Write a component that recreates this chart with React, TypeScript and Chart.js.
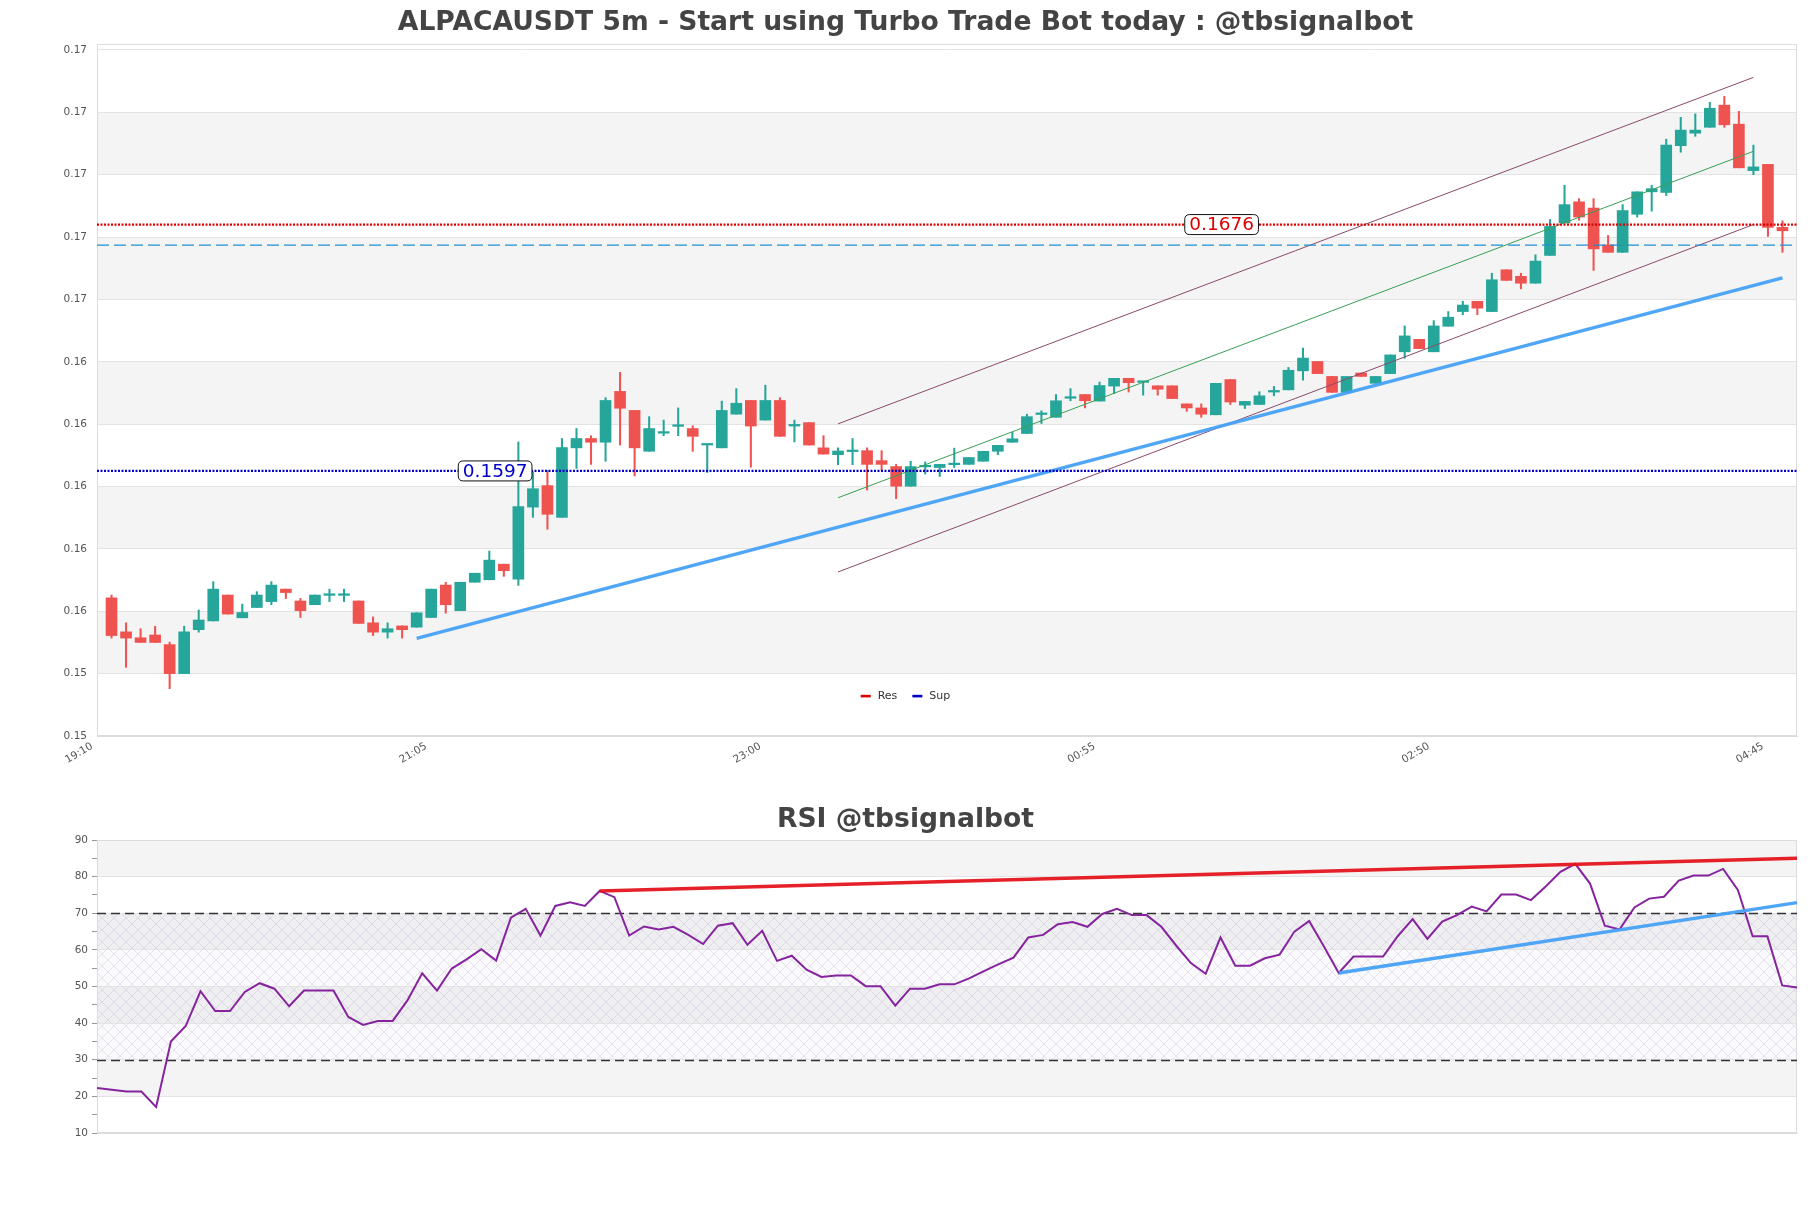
import React, { useEffect, useRef } from 'react';
import { Chart, registerables } from 'chart.js';

Chart.register(...registerables);

// ---------- text ----------
const TITLE = 'ALPACAUSDT 5m - Start using Turbo Trade Bot today : @tbsignalbot';
const RSI_TITLE = 'RSI @tbsignalbot';

// ---------- categories ----------
const AXIS_START = '19:10'; // left edge of the time axis
const STEP_MIN = 5;
const X_TICK_EVERY = 23;

// ---------- candles (19:15 ... 04:50) ----------
const OPEN = [
  0.15563, 0.15454, 0.15435, 0.15444, 0.15413, 0.1532, 0.15461, 0.15489, 0.15572, 0.15499,
  0.15532, 0.15551, 0.15591, 0.15553, 0.15541, 0.15571, 0.15571, 0.15553, 0.15483, 0.15453,
  0.15473, 0.15469, 0.155, 0.15604, 0.15522, 0.15613, 0.15621, 0.15671, 0.15623, 0.15854,
  0.15923, 0.15821, 0.16044, 0.16074, 0.16062, 0.16225, 0.16164, 0.16033, 0.16091, 0.16113,
  0.16106, 0.16053, 0.16044, 0.16152, 0.16196, 0.16133, 0.16196, 0.16114, 0.16125, 0.16044,
  0.16022, 0.16032, 0.16035, 0.16003, 0.15984, 0.15921, 0.15983, 0.15981, 0.1599, 0.15991,
  0.16001, 0.16033, 0.16062, 0.1609, 0.16151, 0.16142, 0.16203, 0.16215, 0.16194, 0.16242,
  0.16267, 0.16254, 0.16243, 0.16243, 0.16185, 0.16172, 0.1615, 0.16263, 0.16181, 0.16183,
  0.16223, 0.1623, 0.16291, 0.16321, 0.16273, 0.16222, 0.16284, 0.16251, 0.16282, 0.16352,
  0.16392, 0.16352, 0.16434, 0.16481, 0.16514, 0.16481, 0.16615, 0.16594, 0.16572, 0.16661,
  0.16765, 0.16833, 0.16813, 0.16695, 0.16671, 0.16793, 0.16865, 0.16863, 0.17013, 0.17053,
  0.17072, 0.17143, 0.17082, 0.16933, 0.16953, 0.16751,
];
const HIGH = [
  0.15572, 0.15483, 0.15464, 0.15472, 0.15421, 0.15472, 0.15524, 0.15615, 0.15572, 0.15543,
  0.15583, 0.15615, 0.15591, 0.15561, 0.15572, 0.15591, 0.15591, 0.15553, 0.15502, 0.15483,
  0.15473, 0.15515, 0.15591, 0.15613, 0.15613, 0.15642, 0.15713, 0.15671, 0.16063, 0.15967,
  0.15972, 0.16074, 0.16106, 0.16083, 0.16205, 0.16286, 0.16164, 0.16144, 0.16133, 0.16172,
  0.16115, 0.16056, 0.16194, 0.16234, 0.16196, 0.16245, 0.16205, 0.16133, 0.16125, 0.16083,
  0.16044, 0.16074, 0.16044, 0.16035, 0.15991, 0.16001, 0.15999, 0.15991, 0.16043, 0.16013,
  0.16033, 0.16052, 0.16094, 0.16152, 0.16163, 0.16215, 0.16234, 0.16215, 0.16255, 0.16267,
  0.16267, 0.16256, 0.16243, 0.16243, 0.16185, 0.16185, 0.16251, 0.16263, 0.16193, 0.16224,
  0.16241, 0.16302, 0.16364, 0.16321, 0.16273, 0.16273, 0.16284, 0.16273, 0.16342, 0.16435,
  0.16392, 0.16452, 0.16481, 0.16514, 0.16514, 0.16604, 0.16615, 0.16604, 0.16663, 0.16776,
  0.16886, 0.16843, 0.16843, 0.16725, 0.16824, 0.16865, 0.16886, 0.17034, 0.17104, 0.17115,
  0.17152, 0.17171, 0.17123, 0.17015, 0.16953, 0.16772,
];
const LOW = [
  0.15434, 0.1534, 0.1542, 0.1542, 0.15272, 0.1532, 0.15453, 0.15489, 0.15511, 0.15499,
  0.15532, 0.15541, 0.15561, 0.155, 0.15541, 0.15551, 0.15551, 0.15481, 0.15442, 0.15434,
  0.15434, 0.15469, 0.155, 0.15514, 0.15522, 0.15613, 0.15621, 0.15632, 0.15603, 0.15821,
  0.15783, 0.15821, 0.15978, 0.15991, 0.16001, 0.16053, 0.15954, 0.16033, 0.16083, 0.16083,
  0.16033, 0.15965, 0.16044, 0.16152, 0.15982, 0.16133, 0.16081, 0.16063, 0.16053, 0.16024,
  0.1599, 0.1599, 0.15909, 0.15972, 0.15881, 0.15921, 0.1596, 0.15952, 0.15981, 0.15991,
  0.16001, 0.16022, 0.16062, 0.1609, 0.16122, 0.16142, 0.16195, 0.16172, 0.16194, 0.16218,
  0.16223, 0.16213, 0.16213, 0.16202, 0.16161, 0.16142, 0.1615, 0.16183, 0.1617, 0.16183,
  0.16211, 0.1623, 0.16261, 0.16282, 0.16222, 0.16222, 0.16273, 0.16251, 0.16282, 0.16331,
  0.16362, 0.16352, 0.16434, 0.16471, 0.16471, 0.16481, 0.16581, 0.16554, 0.16572, 0.16661,
  0.16765, 0.16774, 0.16613, 0.16671, 0.16671, 0.16784, 0.16803, 0.16853, 0.16992, 0.17043,
  0.17072, 0.17072, 0.16942, 0.1692, 0.16722, 0.16671,
];
const CLOSE = [
  0.15442, 0.15434, 0.1542, 0.1542, 0.1532, 0.15454, 0.15492, 0.15591, 0.15511, 0.15516,
  0.15572, 0.15604, 0.1558, 0.15522, 0.15572, 0.15573, 0.15573, 0.15481, 0.15453, 0.15464,
  0.15461, 0.15515, 0.15591, 0.15541, 0.15613, 0.15642, 0.15684, 0.1565, 0.15856, 0.15913,
  0.15831, 0.16045, 0.16074, 0.16062, 0.16196, 0.16171, 0.16044, 0.16106, 0.16095, 0.16116,
  0.16081, 0.16056, 0.16164, 0.16187, 0.16114, 0.16196, 0.16081, 0.16116, 0.16053, 0.16024,
  0.16034, 0.16035, 0.15991, 0.15991, 0.15921, 0.15984, 0.15986, 0.15991, 0.15992, 0.16013,
  0.16033, 0.16052, 0.16073, 0.16144, 0.16153, 0.16195, 0.16205, 0.16195, 0.16244, 0.16267,
  0.16253, 0.16256, 0.16232, 0.16202, 0.16172, 0.16152, 0.16251, 0.16191, 0.16193, 0.16211,
  0.16225, 0.16293, 0.16332, 0.16282, 0.16222, 0.16273, 0.16273, 0.16273, 0.16342, 0.16403,
  0.16362, 0.16435, 0.16463, 0.16502, 0.16492, 0.16583, 0.16581, 0.16572, 0.16643, 0.16754,
  0.16824, 0.16784, 0.16682, 0.16671, 0.16805, 0.16865, 0.16875, 0.17015, 0.17063, 0.17063,
  0.17133, 0.1708, 0.16942, 0.16945, 0.16751, 0.1674,
];

// ---------- RSI ----------
const RSI = [
  22.3, 21.8, 21.3, 21.3, 17.1, 35.0, 39.2, 48.7, 43.3, 43.3,
  48.5, 50.9, 49.4, 44.6, 48.9, 48.9, 48.9, 41.7, 39.5, 40.6,
  40.6, 46.2, 53.6, 48.9, 54.9, 57.4, 60.2, 57.1, 68.8, 71.2,
  63.9, 72.0, 73.0, 72.0, 76.1, 74.4, 63.9, 66.4, 65.6, 66.3,
  64.1, 61.6, 66.6, 67.3, 61.4, 65.2, 57.0, 58.4, 54.6, 52.6,
  53.0, 53.0, 50.1, 50.1, 44.8, 49.4, 49.4, 50.6, 50.6, 52.2,
  54.2, 56.1, 57.9, 63.4, 64.1, 67.0, 67.6, 66.3, 69.8, 71.2,
  69.5, 69.5, 66.3, 61.2, 56.4, 53.5, 63.4, 55.7, 55.7, 57.7,
  58.7, 65.0, 67.9, 60.9, 53.7, 58.2, 58.2, 58.2, 63.8, 68.4,
  63.0, 67.7, 69.5, 71.8, 70.5, 75.1, 75.1, 73.6, 77.3, 81.3,
  83.5, 78.1, 66.6, 65.6, 71.6, 74.0, 74.5, 78.9, 80.3, 80.3,
  82.1, 76.4, 63.7, 63.7, 50.3, 49.7,
];

// ---------- axes ----------
const Y_TICKS = [0.1512, 0.1532, 0.1552, 0.1572, 0.1592, 0.1612, 0.1632, 0.1652, 0.1672, 0.1692, 0.1712, 0.1732];
const Y_MIN = 0.1512;
const Y_MAX = 0.17339;
const RSI_MIN = 10;
const RSI_MAX = 90;
const RSI_MAJOR = [10, 20, 30, 40, 50, 60, 70, 80, 90];
const RSI_LEVELS = [70, 30];

// ---------- levels & trend lines (candle index, price) ----------
const RES_LEVEL = 0.1676;
const SUP_LEVEL = 0.1597;
const CYAN_LEVEL = 0.16694;
const RES_LABEL_AT = 76.4;
const SUP_LABEL_AT = 26.4;
const SUP_TREND = [{ i: 21, y: 0.15433 }, { i: 115, y: 0.16589 }];
const CH_UPPER = [{ i: 50, y: 0.16121 }, { i: 113, y: 0.17232 }];
const CH_MID = [{ i: 50, y: 0.15884 }, { i: 113, y: 0.16995 }];
const CH_LOWER = [{ i: 50, y: 0.15646 }, { i: 113, y: 0.1676 }];
const RSI_RES = [{ i: 34, y: 76.1 }, { i: 115, y: 85.0 }];
const RSI_SUP = [{ i: 84, y: 53.7 }, { i: 115, y: 72.9 }];

// ---------- style ----------
const FONT = "'DejaVu Sans', 'Noto Sans', sans-serif";
const GREEN = '#26a69a';
const RED = '#ef5350';
const BAND = '#f4f4f4';
const GRID = '#e3e3e3';
const BORDER = '#dcdcdc';
const TICK_TXT = '#555555';
const RES_COLOR = '#dd0000';
const SUP_COLOR = '#0000c8';
const TREND_BLUE = 'rgba(70,160,245,0.95)';

function makeTimes(start: string, count: number): string[] {
  const [h, m] = start.split(':').map(Number);
  const t0 = h * 60 + m;
  const out: string[] = [];
  for (let k = 0; k < count; k++) {
    const v = (t0 + k * STEP_MIN) % 1440;
    out.push(String(Math.floor(v / 60)).padStart(2, '0') + ':' + String(v % 60).padStart(2, '0'));
  }
  return out;
}
const X_LABELS = makeTimes(AXIS_START, OPEN.length + 2);
const CANDLE_LABELS = X_LABELS.slice(1, OPEN.length + 1);

function seg(pts: { i: number; y: number }[]) {
  return pts.map((p) => ({ x: CANDLE_LABELS[p.i], y: p.y }));
}

function bandsPlugin(id: string, majors: number[], hatch?: [number, number]) {
  return {
    id,
    beforeDraw(chart: any) {
      const { ctx, chartArea: a, scales } = chart;
      const y = scales.y;
      ctx.save();
      ctx.fillStyle = '#ffffff';
      ctx.fillRect(a.left, a.top, a.right - a.left, a.bottom - a.top);
      ctx.fillStyle = BAND;
      for (let k = 1; k < majors.length - 1; k += 2) {
        const y0 = y.getPixelForValue(majors[k]);
        const y1 = y.getPixelForValue(majors[k + 1]);
        ctx.fillRect(a.left, y1, a.right - a.left, y0 - y1);
      }
      if (hatch) {
        const yTop = y.getPixelForValue(hatch[1]);
        const yBot = y.getPixelForValue(hatch[0]);
        ctx.fillStyle = 'rgba(185,165,215,0.07)';
        ctx.fillRect(a.left, yTop, a.right - a.left, yBot - yTop);
        const c = document.createElement('canvas');
        c.width = 12;
        c.height = 12;
        const g = c.getContext('2d')!;
        g.strokeStyle = 'rgba(165,145,195,0.33)';
        g.lineWidth = 0.7;
        g.beginPath();
        g.moveTo(0, 0);
        g.lineTo(12, 12);
        g.moveTo(12, 0);
        g.lineTo(0, 12);
        g.stroke();
        const pat = ctx.createPattern(c, 'repeat');
        if (pat) {
          ctx.fillStyle = pat;
          ctx.fillRect(a.left, yTop, a.right - a.left, yBot - yTop);
        }
      }
      ctx.restore();
    },
    beforeDatasetsDraw(chart: any) {
      const { ctx, chartArea: a } = chart;
      ctx.save();
      ctx.strokeStyle = BORDER;
      ctx.lineWidth = 1;
      ctx.strokeRect(a.left + 0.5, a.top + 0.5, a.right - a.left - 1, a.bottom - a.top - 1);
      ctx.restore();
    },
  };
}

const levelLabelsPlugin = {
  id: 'levelLabels',
  afterDatasetsDraw(chart: any) {
    const { ctx, scales } = chart;
    const items = [
      { at: RES_LABEL_AT, value: RES_LEVEL, color: RES_COLOR },
      { at: SUP_LABEL_AT, value: SUP_LEVEL, color: SUP_COLOR },
    ];
    ctx.save();
    ctx.font = `18.5px ${FONT}`;
    items.forEach((it) => {
      const text = it.value.toFixed(4);
      const px = scales.x.getPixelForValue(it.at + 1);
      const py = scales.y.getPixelForValue(it.value);
      const w = ctx.measureText(text).width + 9;
      const h = 20;
      const x0 = px - w / 2;
      const y0 = py - h / 2;
      const r = 5;
      ctx.beginPath();
      ctx.moveTo(x0 + r, y0);
      ctx.lineTo(x0 + w - r, y0);
      ctx.quadraticCurveTo(x0 + w, y0, x0 + w, y0 + r);
      ctx.lineTo(x0 + w, y0 + h - r);
      ctx.quadraticCurveTo(x0 + w, y0 + h, x0 + w - r, y0 + h);
      ctx.lineTo(x0 + r, y0 + h);
      ctx.quadraticCurveTo(x0, y0 + h, x0, y0 + h - r);
      ctx.lineTo(x0, y0 + r);
      ctx.quadraticCurveTo(x0, y0, x0 + r, y0);
      ctx.closePath();
      ctx.fillStyle = '#ffffff';
      ctx.fill();
      ctx.strokeStyle = '#111111';
      ctx.lineWidth = 1;
      ctx.stroke();
      ctx.fillStyle = it.color;
      ctx.textAlign = 'center';
      ctx.textBaseline = 'middle';
      ctx.fillText(text, px, py + 1);
    });
    ctx.restore();
  },
};

const innerLegendPlugin = {
  id: 'innerLegend',
  afterDraw(chart: any) {
    const { ctx, chartArea: a } = chart;
    const items = chart.data.datasets.filter((d: any) => d.inLegend);
    ctx.save();
    ctx.font = `11px ${FONT}`;
    const mw = 10;
    const gap = 7;
    const sp = 15;
    const widths = items.map((d: any) => mw + gap + ctx.measureText(d.label).width);
    const total = widths.reduce((s: number, w: number) => s + w, 0) + sp * (items.length - 1);
    let x = chart.width / 2 - total / 2;
    const y = a.bottom - 40;
    items.forEach((d: any, k: number) => {
      ctx.fillStyle = d.borderColor;
      ctx.fillRect(x, y - 1.2, mw, 2.6);
      ctx.fillStyle = '#333333';
      ctx.textAlign = 'left';
      ctx.textBaseline = 'middle';
      ctx.fillText(d.label, x + mw + gap, y);
      x += widths[k] + sp;
    });
    ctx.restore();
  },
};

const rsiLevelsPlugin = {
  id: 'rsiLevels',
  beforeDatasetsDraw(chart: any) {
    const { ctx, chartArea: a, scales } = chart;
    ctx.save();
    ctx.strokeStyle = '#333333';
    ctx.lineWidth = 1.3;
    ctx.setLineDash([9, 5]);
    RSI_LEVELS.forEach((v) => {
      const py = Math.round(scales.y.getPixelForValue(v)) + 0.5;
      ctx.beginPath();
      ctx.moveTo(a.left, py);
      ctx.lineTo(a.right, py);
      ctx.stroke();
    });
    ctx.restore();
  },
};

function lineDs(label: string, data: any[], color: string, width: number, dash?: number[], extra: any = {}) {
  return {
    type: 'line' as const,
    label,
    data,
    borderColor: color,
    backgroundColor: color,
    borderWidth: width,
    borderDash: dash || [],
    pointRadius: 0,
    fill: false,
    tension: 0,
    order: 0,
    ...extra,
  };
}

// invisible right-hand spacer so that the chart area ends 14px before the canvas edge
const rightSpacer = {
  type: 'linear',
  position: 'right',
  display: true,
  grid: { display: false, drawTicks: false },
  border: { display: false },
  ticks: { display: false },
  afterFit: (s: any) => {
    s.width = 14;
  },
};

function mainConfig(): any {
  const colors = OPEN.map((o, i) => (CLOSE[i] >= o ? GREEN : RED));
  const first = X_LABELS[0];
  const last = X_LABELS[X_LABELS.length - 1];
  return {
    type: 'bar',
    data: {
      labels: X_LABELS,
      datasets: [
        lineDs('Res', [{ x: first, y: RES_LEVEL }, { x: last, y: RES_LEVEL }], RES_COLOR, 2.2, [2, 1.5], { inLegend: true }),
        lineDs('Sup', [{ x: first, y: SUP_LEVEL }, { x: last, y: SUP_LEVEL }], SUP_COLOR, 2.2, [2, 1.5], { inLegend: true }),
        lineDs('Last', [{ x: first, y: CYAN_LEVEL }, { x: last, y: CYAN_LEVEL }], '#1f8fcf', 1.2, [12, 5]),
        lineDs('Trend', seg(SUP_TREND), TREND_BLUE, 3.5),
        lineDs('Upper', seg(CH_UPPER), '#8a4a6c', 1),
        lineDs('Mid', seg(CH_MID), '#3a9f55', 1),
        lineDs('Lower', seg(CH_LOWER), '#8a4a6c', 1),
        {
          type: 'bar',
          label: 'wick',
          data: LOW.map((l, i) => ({ x: CANDLE_LABELS[i], y: [l, HIGH[i]] })),
          backgroundColor: colors,
          borderWidth: 0,
          barThickness: 1.4,
          grouped: false,
          order: 2,
        },
        {
          type: 'bar',
          label: 'body',
          data: OPEN.map((o, i) => ({ x: CANDLE_LABELS[i], y: [o, CLOSE[i]] })),
          backgroundColor: colors,
          borderWidth: 0,
          barThickness: 11,
          minBarLength: 1.6,
          grouped: false,
          order: 1,
        },
      ],
    },
    options: {
      responsive: false,
      animation: false,
      devicePixelRatio: 1,
      events: [],
      layout: { padding: 0 },
      plugins: {
        legend: { display: false },
        tooltip: { enabled: false },
        title: {
          display: true,
          text: TITLE,
          color: '#444444',
          font: { family: FONT, size: 26.6, weight: 'bold' },
          padding: { top: 7, bottom: 5.1 },
        },
      },
      scales: {
        x: {
          type: 'category',
          offset: false,
          grid: { display: false, drawTicks: false },
          border: { display: true, color: BORDER },
          ticks: {
            autoSkip: false,
            minRotation: 31,
            maxRotation: 31,
            padding: 4,
            labelOffset: -5,
            color: TICK_TXT,
            font: { family: FONT, size: 10.5 },
          },
          afterBuildTicks: (s: any) => {
            s.ticks = s.ticks.filter((t: any) => t.value % X_TICK_EVERY === 0);
          },
          afterFit: (s: any) => {
            s.height = 44;
          },
        },
        y: {
          type: 'linear',
          min: Y_MIN,
          max: Y_MAX,
          grid: { color: GRID, drawTicks: false },
          border: { display: true, color: BORDER },
          ticks: {
            padding: 10,
            color: TICK_TXT,
            font: { family: FONT, size: 10.5 },
            callback: (v: any) => Number(v).toFixed(2),
          },
          afterBuildTicks: (s: any) => {
            s.ticks = Y_TICKS.map((v) => ({ value: v }));
          },
          afterFit: (s: any) => {
            s.width = 97;
          },
        },
        pad: rightSpacer,
      },
    },
    plugins: [bandsPlugin('mainBands', Y_TICKS), levelLabelsPlugin, innerLegendPlugin],
  };
}

function rsiConfig(): any {
  return {
    type: 'line',
    data: {
      labels: CANDLE_LABELS,
      datasets: [
        lineDs('RSI Res', seg(RSI_RES), 'rgba(228,20,30,0.95)', 3.5),
        lineDs('RSI Sup', seg(RSI_SUP), TREND_BLUE, 3.5),
        lineDs('RSI', RSI, '#86249e', 2, [], { order: 1 }),
      ],
    },
    options: {
      responsive: false,
      animation: false,
      devicePixelRatio: 1,
      events: [],
      layout: { padding: 0 },
      plugins: {
        legend: { display: false },
        tooltip: { enabled: false },
        title: {
          display: true,
          text: RSI_TITLE,
          color: '#444444',
          font: { family: FONT, size: 26.6, weight: 'bold' },
          padding: { top: 24, bottom: 4.1 },
        },
      },
      scales: {
        x: {
          type: 'category',
          offset: false,
          grid: { display: false, drawTicks: false },
          border: { display: true, color: BORDER },
          ticks: { display: false },
          afterFit: (s: any) => {
            s.height = 75;
          },
        },
        y: {
          type: 'linear',
          min: RSI_MIN,
          max: RSI_MAX,
          grid: {
            color: (c: any) => (c.tick && c.tick.value % 10 === 0 ? GRID : 'rgba(0,0,0,0)'),
            tickColor: '#999999',
            tickLength: 5,
          },
          border: { display: true, color: BORDER },
          ticks: {
            stepSize: 5,
            padding: 4,
            color: TICK_TXT,
            font: { family: FONT, size: 10.5 },
            autoSkip: false,
            callback: (v: any) => (Number(v) % 10 === 0 ? String(v) : ''),
          },
          afterFit: (s: any) => {
            s.width = 97;
          },
        },
        pad: rightSpacer,
      },
    },
    plugins: [bandsPlugin('rsiBands', RSI_MAJOR, [RSI_LEVELS[1], RSI_LEVELS[0]]), rsiLevelsPlugin],
  };
}

export default function App() {
  const mainRef = useRef<HTMLCanvasElement>(null);
  const rsiRef = useRef<HTMLCanvasElement>(null);

  useEffect(() => {
    const c1 = new Chart(mainRef.current as HTMLCanvasElement, mainConfig());
    const c2 = new Chart(rsiRef.current as HTMLCanvasElement, rsiConfig());
    return () => {
      c1.destroy();
      c2.destroy();
    };
  }, []);

  return (
    <div style={{ position: 'absolute', left: 0, top: 0, width: 1811, height: 1208, background: '#ffffff' }}>
      <canvas
        ref={mainRef}
        width={1811}
        height={780}
        style={{ position: 'absolute', left: 0, top: 0, width: 1811, height: 780 }}
      />
      <canvas
        ref={rsiRef}
        width={1811}
        height={428}
        style={{ position: 'absolute', left: 0, top: 780, width: 1811, height: 428 }}
      />
    </div>
  );
}
